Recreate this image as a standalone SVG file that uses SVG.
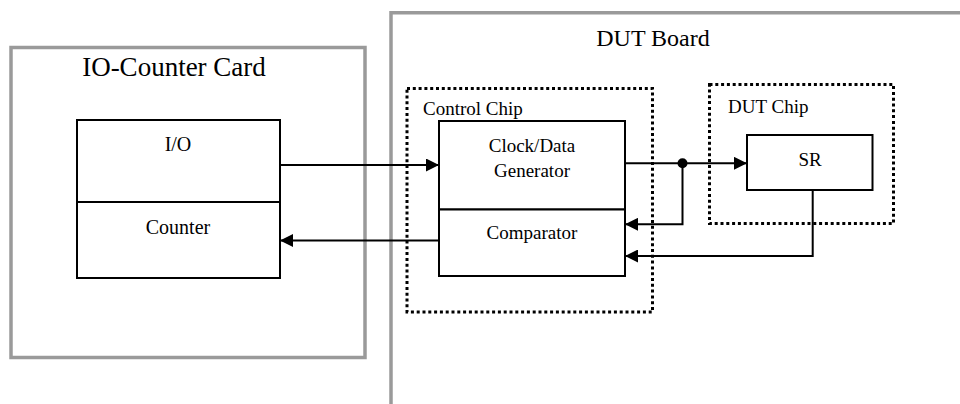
<svg xmlns="http://www.w3.org/2000/svg" width="960" height="404" viewBox="0 0 960 404">
  <defs>
    <style>
      .frame { fill: none; stroke: #9a9a9a; stroke-width: 3.5; }
      .chip { fill: none; stroke: #000; stroke-width: 3; stroke-dasharray: 3 2.8; }
      .box { fill: #fff; stroke: #000; stroke-width: 2; }
      .wire { fill: none; stroke: #000; stroke-width: 2; }
      text { font-family: "Liberation Serif", "Times New Roman", serif; fill: #000; }
      .big { font-size: 27px; text-anchor: middle; }
      .lbl { font-size: 20px; text-anchor: middle; }
      .tag { font-size: 19px; }
    </style>
    <marker id="arrow" viewBox="0 0 13 13" refX="13" refY="6.5" markerWidth="13" markerHeight="13" markerUnits="userSpaceOnUse" orient="auto">
      <path d="M0,0 L13,6.5 L0,13 Z" fill="#000"/>
    </marker>
  </defs>

  <!-- IO-Counter card -->
  <g id="io-counter-card">
    <rect class="frame" x="11" y="47.5" width="354" height="310"/>
    <text class="big" x="174" y="76">IO-Counter Card</text>
  </g>
  <g id="io">
    <rect class="box" x="77" y="120" width="203" height="82"/>
    <text class="lbl" x="178" y="151">I/O</text>
  </g>
  <g id="counter">
    <rect class="box" x="77" y="202" width="203" height="76"/>
    <text class="lbl" x="178" y="234">Counter</text>
  </g>

  <!-- DUT board -->
  <g id="dut-board">
    <path class="frame" d="M391,410 V12.7 H970"/>
    <text class="big" x="653" y="46" style="font-size:24px">DUT Board</text>
  </g>

  <!-- Control chip -->
  <g id="control-chip">
    <rect class="chip" x="407" y="88.5" width="245.5" height="223.5"/>
    <text class="tag" x="423" y="115">Control Chip</text>
  </g>
  <g id="clock-data-generator">
    <rect class="box" x="439" y="121" width="186" height="88.5"/>
    <text class="tag" x="532" y="151.5" text-anchor="middle">Clock/Data</text>
    <text class="tag" x="532" y="176.5" text-anchor="middle">Generator</text>
  </g>
  <g id="comparator">
    <rect class="box" x="439" y="209.5" width="186" height="66.5"/>
    <text class="tag" x="532" y="239" text-anchor="middle">Comparator</text>
  </g>

  <!-- DUT chip -->
  <g id="dut-chip">
    <rect class="chip" x="709.5" y="84.5" width="184" height="139"/>
    <text class="tag" x="728" y="112.5">DUT Chip</text>
  </g>
  <g id="sr">
    <rect class="box" x="747" y="135" width="125.5" height="55"/>
    <text class="tag" x="810" y="166" text-anchor="middle">SR</text>
  </g>

  <!-- Connectors -->
  <g id="connectors">
    <path class="wire" d="M280,165 H439" marker-end="url(#arrow)"/>
    <path class="wire" d="M439,240.5 H280" marker-end="url(#arrow)"/>
    <path class="wire" d="M625,163.3 H747" marker-end="url(#arrow)"/>
    <path class="wire" d="M682.5,163.3 V224.3 H625" marker-end="url(#arrow)"/>
    <path class="wire" d="M812.7,190 V256 H625" marker-end="url(#arrow)"/>
    <circle cx="682.5" cy="163.3" r="5" fill="#000"/>
  </g>
</svg>
